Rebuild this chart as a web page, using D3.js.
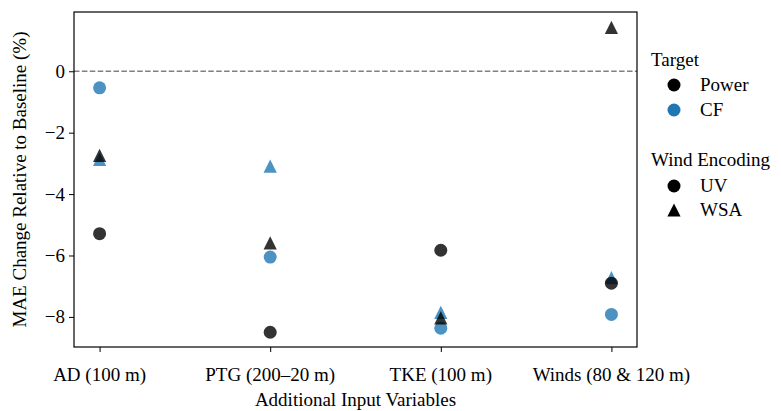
<!DOCTYPE html>
<html><head><meta charset="utf-8">
<script src="https://cdn.jsdelivr.net/npm/d3@7"></script>
<style>body{margin:0;background:#fff}</style>
</head><body><svg id="c" width="781" height="411"></svg>
<script>
const categories = ["AD (100 m)", "PTG (200\u201320 m)", "TKE (100 m)", "Winds (80 & 120 m)"];
const cfUV   = [-0.54, -6.05, -8.37, -7.92];
const cfWSA  = [-2.87, -3.09, -7.85, -6.72];
const powerUV  = [-5.29, -8.50, -5.83, -6.90];
const powerWSA = [-2.74, -5.59, -8.03, 1.43];
const yTicks = [0, -2, -4, -6, -8];

const FS = 19;
const FONT = "Liberation Serif";
const svg = d3.select("#c");
const L = 74, R = 637, T = 12, B = 347;
const x = d3.scaleLinear().domain([-0.15, 3.15]).range([L, R]);
const y = d3.scaleLinear().domain([-8.98, 1.93]).range([B, T]);
const black = "#000000", blue = "#1f77b4";

function addText(parent, tx, ty, str, anchor) {
  return parent.append("text").attr("x", tx).attr("y", ty).attr("font-size", FS)
    .attr("font-family", FONT).attr("text-anchor", anchor || "start").attr("fill", "#000").text(str);
}

svg.append("line").attr("x1", L).attr("x2", R).attr("y1", y(0)).attr("y2", y(0))
  .attr("stroke", "#808080").attr("stroke-width", 1.5).attr("stroke-dasharray", "5.5,2.4");

const circ = d3.symbol().type(d3.symbolCircle).size(Math.PI * 6.5 * 6.5);
function tri(cx, cy, s) {
  return `M${cx},${cy - s}L${cx + s},${cy + s}L${cx - s},${cy + s}Z`;
}
const g = svg.append("g");
function plot(vals, color, shape) {
  vals.forEach((v, i) => {
    const px = x(i), py = y(v);
    if (shape === "o") g.append("path").attr("d", circ).attr("transform", `translate(${px},${py})`)
      .attr("fill", color).attr("fill-opacity", 0.8);
    else g.append("path").attr("d", tri(px, py, 6.6)).attr("fill", color).attr("fill-opacity", 0.8);
  });
}
plot(cfUV, blue, "o");
plot(cfWSA, blue, "^");
plot(powerUV, black, "o");
plot(powerWSA, black, "^");

const xa = svg.append("g").attr("transform", `translate(0,${B})`)
  .call(d3.axisBottom(x).tickValues([0, 1, 2, 3]).tickFormat("").tickSize(5));
const ya = svg.append("g").attr("transform", `translate(${L},0)`)
  .call(d3.axisLeft(y).tickValues(yTicks).tickFormat("").tickSize(5));
[xa, ya].forEach(a => {
  a.attr("font-family", null).attr("font-size", null);
  a.select(".domain").remove();
  a.selectAll("line").attr("stroke", "#000").attr("stroke-width", 1);
  a.selectAll("text").remove();
});
categories.forEach((c, i) => addText(svg, x(i), B + 34, c, "middle"));
yTicks.forEach(v => addText(svg, L - 9, y(v) + 6.5, v < 0 ? "\u2212" + Math.abs(v) : String(v), "end"));

svg.append("rect").attr("x", L).attr("y", T).attr("width", R - L).attr("height", B - T)
  .attr("fill", "none").attr("stroke", "#000").attr("stroke-width", 1.2);

addText(svg, (L + R) / 2, 406, "Additional Input Variables", "middle");
addText(svg, 0, 0, "MAE Change Relative to Baseline (%)", "middle")
  .attr("transform", `translate(26,${(T + B) / 2}) rotate(-90)`);

const lg = svg.append("g");
const lx = 651, mx = 674, tx = 700;
addText(lg, lx, 66, "Target");
lg.append("path").attr("d", circ).attr("transform", `translate(${mx},85)`).attr("fill", black);
addText(lg, tx, 91, "Power");
lg.append("path").attr("d", circ).attr("transform", `translate(${mx},110)`).attr("fill", blue);
addText(lg, tx, 116, "CF");
addText(lg, lx, 166, "Wind Encoding");
lg.append("path").attr("d", circ).attr("transform", `translate(${mx},186)`).attr("fill", black);
addText(lg, tx, 192, "UV");
lg.append("path").attr("d", tri(mx, 210, 6.6)).attr("fill", black);
addText(lg, tx, 216, "WSA");
</script></body></html>
